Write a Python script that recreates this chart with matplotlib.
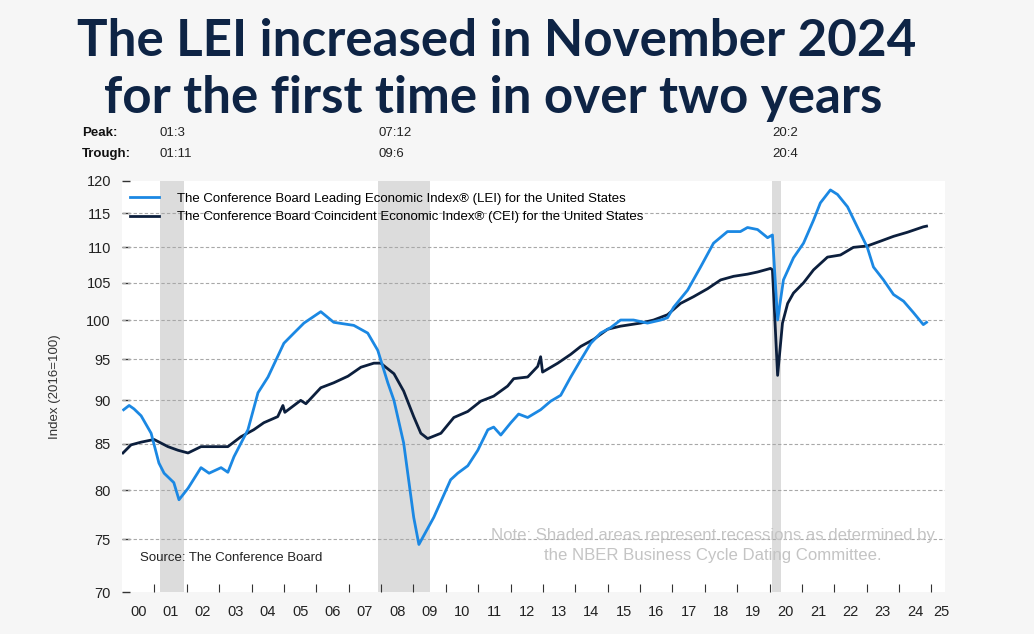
import matplotlib
matplotlib.use('Agg')
import matplotlib.pyplot as plt
from matplotlib.ticker import FixedLocator, NullFormatter, NullLocator

# data (decimal year, index 2016=100)
lei_t = [2000.05, 2000.22, 2000.37, 2000.59, 2000.90, 2001.14, 2001.30, 2001.60, 2001.76,
         2002.04, 2002.44, 2002.69, 2003.06, 2003.27, 2003.46, 2003.89, 2004.20, 2004.51,
         2005.00, 2005.31, 2005.62, 2006.14, 2006.54, 2007.16, 2007.59, 2007.90, 2008.21,
         2008.40, 2008.70, 2009.01, 2009.17, 2009.63, 2010.15, 2010.37, 2010.68, 2010.99,
         2011.30, 2011.48, 2011.70, 2012.01, 2012.25, 2012.53, 2012.93, 2013.24, 2013.55,
         2013.86, 2014.17, 2014.48, 2014.78, 2015.09, 2015.40, 2015.80, 2016.23, 2016.64,
         2016.85, 2017.04, 2017.47, 2017.87, 2018.27, 2018.70, 2019.10, 2019.32, 2019.63,
         2019.94, 2020.09, 2020.25, 2020.43, 2020.74, 2021.05, 2021.36, 2021.57, 2021.88,
         2022.10, 2022.41, 2022.72, 2023.02, 2023.21, 2023.52, 2023.83, 2024.14, 2024.44,
         2024.75, 2024.85]
lei_v = [88.9, 89.4, 89.0, 88.2, 86.2, 82.9, 81.8, 80.8, 79.0,
         80.2, 82.4, 81.8, 82.4, 81.9, 83.6, 86.6, 90.9, 92.8,
         97.0, 98.3, 99.6, 101.1, 99.7, 99.3, 98.3, 96.1, 92.1,
         90.0, 85.1, 77.2, 74.5, 77.2, 81.1, 81.8, 82.6, 84.3,
         86.6, 86.9, 86.0, 87.4, 88.4, 88.0, 88.9, 89.9, 90.6,
         92.8, 94.9, 97.0, 98.3, 99.0, 100.0, 100.0, 99.6, 100.0,
         100.3, 101.7, 104.0, 107.2, 110.6, 112.3, 112.3, 112.9, 112.6,
         111.4, 111.8, 100.0, 105.4, 108.5, 110.6, 114.0, 116.6, 118.6,
         117.9, 116.0, 112.9, 110.0, 107.2, 105.4, 103.4, 102.5, 101.0,
         99.4, 99.7]

cei_t = [2000.03, 2000.28, 2000.59, 2000.99, 2001.42, 2001.73, 2002.04, 2002.44, 2002.84,
         2003.27, 2003.67, 2004.07, 2004.38, 2004.81, 2004.97, 2005.03, 2005.52, 2005.68,
         2006.14, 2006.54, 2006.98, 2007.38, 2007.78, 2007.99, 2008.40, 2008.70, 2009.01,
         2009.23, 2009.44, 2009.85, 2010.25, 2010.68, 2011.08, 2011.48, 2011.91, 2012.10,
         2012.53, 2012.84, 2012.93, 2012.99, 2013.46, 2013.86, 2014.17, 2014.57, 2015.00,
         2015.40, 2016.02, 2016.42, 2016.85, 2017.25, 2017.65, 2018.09, 2018.49, 2018.89,
         2019.32, 2019.63, 2020.03, 2020.09, 2020.25, 2020.40, 2020.56, 2020.74, 2021.05,
         2021.36, 2021.79, 2022.19, 2022.59, 2023.02, 2023.43, 2023.83, 2024.26, 2024.75,
         2024.85]
cei_v = [84.0, 84.9, 85.2, 85.5, 84.7, 84.3, 84.0, 84.7, 84.7,
         84.7, 85.8, 86.6, 87.4, 88.1, 89.4, 88.6, 90.0, 89.6,
         91.5, 92.1, 92.9, 94.0, 94.5, 94.5, 93.2, 91.1, 88.1,
         86.2, 85.6, 86.2, 88.0, 88.7, 89.9, 90.5, 91.7, 92.6,
         92.8, 94.1, 95.3, 93.4, 94.5, 95.6, 96.6, 97.5, 98.8,
         99.2, 99.6, 100.0, 100.7, 102.2, 103.1, 104.2, 105.4, 105.9,
         106.2, 106.5, 107.0, 106.8, 93.0, 99.6, 102.2, 103.6, 105.0,
         106.8, 108.6, 108.9, 110.0, 110.2, 110.9, 111.6, 112.2, 113.0,
         113.1]

# recessions (start, end) and peak/trough labels
rec_start = [2001.17, 2007.92, 2020.08]
rec_end = [2001.92, 2009.50, 2020.34]
peaks = ['01:3', '07:12', '20:2']
troughs = ['01:11', '09:6', '20:4']

years = list(range(2000, 2026))
year_labels = ['%02d' % (y % 100) for y in years]

bg = '#f6f6f6'
fig = plt.figure(figsize=(10.34, 6.34), dpi=100, facecolor=bg)
ax = fig.add_axes([122 / 1034, 42 / 634, 823 / 1034, 411 / 634])
ax.set_facecolor('white')

for s, e in zip(rec_start, rec_end):
    ax.axvspan(s, e, color='#dcdcdc', lw=0, zorder=1)

ax.plot(lei_t, lei_v, color='#1b88e3', lw=2.0, zorder=4,
        label='The Conference Board Leading Economic Index® (LEI) for the United States')
ax.plot(cei_t, cei_v, color='#0c1f3d', lw=2.0, zorder=3,
        label='The Conference Board Coincident Economic Index® (CEI) for the United States')

ax.set_yscale('log')
ax.set_ylim(70, 120)
ax.set_xlim(2000.0, 2025.42)

yt = [70, 75, 80, 85, 90, 95, 100, 105, 110, 115, 120]
ax.yaxis.set_major_locator(FixedLocator(yt))
ax.yaxis.set_minor_locator(NullLocator())
ax.set_yticklabels([str(v) for v in yt])
for v in yt[1:-1]:
    ax.axhline(v, color='#a8a8a8', lw=0.8, ls=(0, (3, 2)), zorder=2)

# x: ticks at year boundaries, labels mid-year
ax.xaxis.set_major_locator(FixedLocator([y for y in years[1:]]))
ax.xaxis.set_major_formatter(NullFormatter())
lab_pos = [y + 0.5 for y in years[:-1]] + [2025.3]
ax.xaxis.set_minor_locator(FixedLocator(lab_pos))
ax.set_xticklabels(year_labels, minor=True)
ax.tick_params(axis='x', which='major', direction='in', length=6, width=0.8, color='#333333')
ax.tick_params(axis='x', which='minor', length=0, pad=9, labelsize=10.5, labelcolor='#222222')
for t in ax.get_xticklabels(minor=True):
    t.set_family(['Liberation Sans Narrow', 'Liberation Sans'])
ax.tick_params(axis='y', direction='in', length=6, width=1.0, color='#333333',
               pad=8, labelsize=10.5, labelcolor='#222222')
for t in ax.get_yticklabels():
    t.set_family('Liberation Sans')

for sp in ax.spines.values():
    sp.set_visible(False)

ax.set_ylabel('Index (2016=100)', fontsize=9.5, family='Liberation Sans', color='#333333', labelpad=18)

leg = ax.legend(loc='upper left', frameon=False, prop={'family': 'Liberation Sans', 'size': 9.5},
                handlelength=2.2, handletextpad=1.4, labelspacing=0.45,
                bbox_to_anchor=(-0.005, 1.0))

ax.text(0.022, 0.083, 'Source: The Conference Board', transform=ax.transAxes,
        fontsize=9.5, family='Liberation Sans', color='#222222', va='center')
ax.text(0.718, 0.113, 'Note: Shaded areas represent recessions as determined by\n'
        'the NBER Business Cycle Dating Committee.', transform=ax.transAxes,
        fontsize=12.1, family='Liberation Sans', color='#c4c4c4', ha='center', va='center',
        linespacing=1.4)

# title
fig.text(497 / 1034, 1 - 41 / 634, 'The LEI increased in November 2024', fontsize=36.8,
         fontweight='bold', family='Lato', color='#0e2445', ha='center', va='center')
fig.text(493 / 1034, 1 - 98 / 634, 'for the first time in over two years', fontsize=36.8,
         fontweight='bold', family='Lato', color='#0e2445', ha='center', va='center')

# peak / trough labels
fig.text(82 / 1034, 1 - 133 / 634, 'Peak:', fontsize=9.5, fontweight='bold',
         family='Liberation Sans', color='#111111', va='center')
fig.text(82 / 1034, 1 - 154 / 634, 'Trough:', fontsize=9.5, fontweight='bold',
         family='Liberation Sans', color='#111111', va='center')
for s, p, tr in zip(rec_start, peaks, troughs):
    xf = ax.transData.transform((s, 100))[0] / fig.bbox.width
    fig.text(xf, 1 - 133 / 634, p, fontsize=9.5, family='Liberation Sans', color='#222222', va='center')
    fig.text(xf, 1 - 154 / 634, tr, fontsize=9.5, family='Liberation Sans', color='#222222', va='center')

fig.savefig('out.png', dpi=100, facecolor=bg)
